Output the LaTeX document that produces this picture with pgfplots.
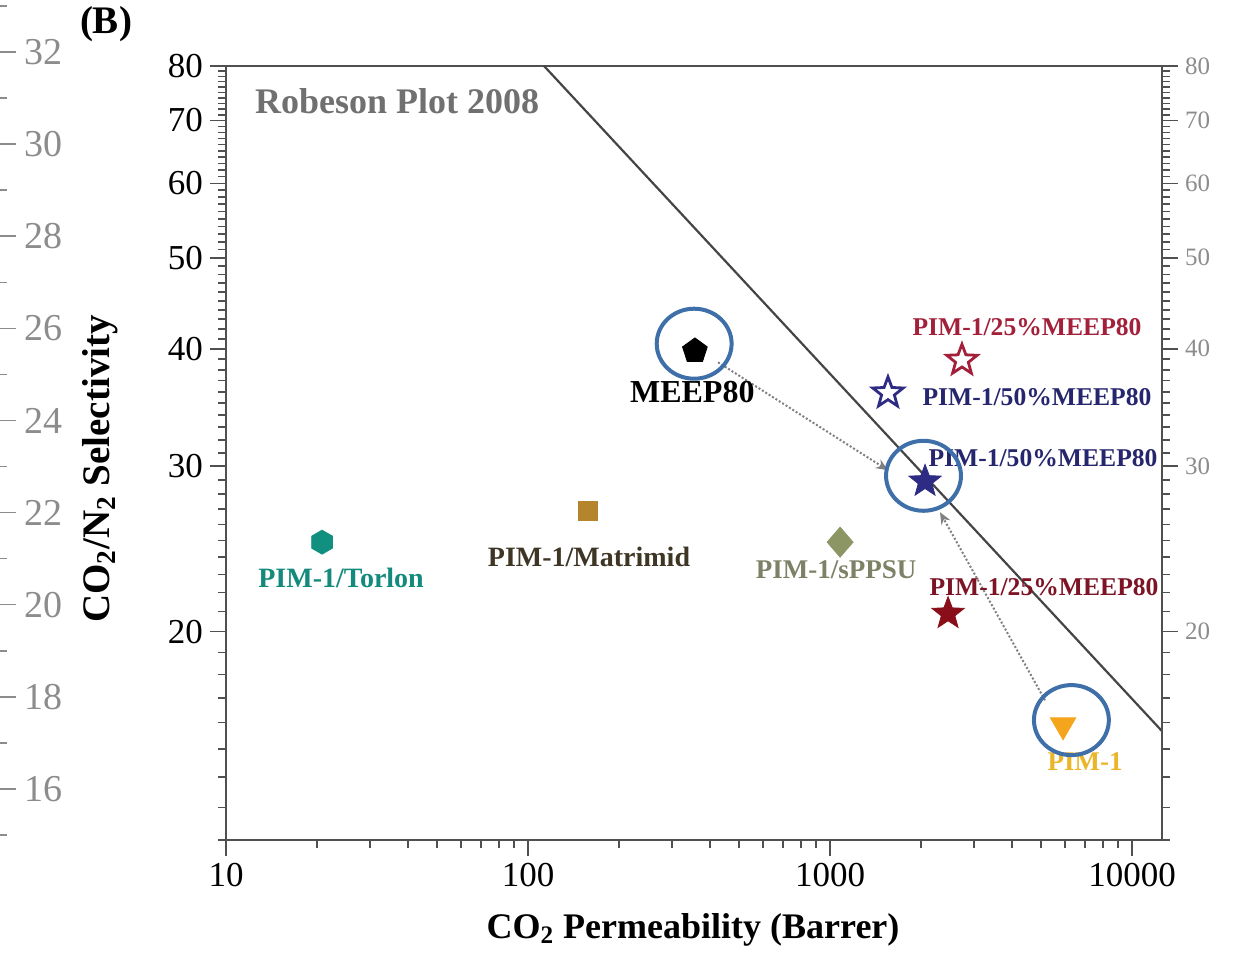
\documentclass[border=0pt]{standalone}
\usepackage{fontspec}
\setmainfont{Liberation Serif}
\usepackage{pgfplots}
\pgfplotsset{compat=1.18}
\usetikzlibrary{arrows.meta}

\definecolor{axisgray}{HTML}{505050}
\definecolor{robtext}{HTML}{707070}
\definecolor{robline}{HTML}{454545}
\definecolor{lightlab}{HTML}{8C8C8C}
\definecolor{redA}{HTML}{A3203A}
\definecolor{redB}{HTML}{8A0E1A}
\definecolor{redBtxt}{HTML}{7C1425}
\definecolor{navyA}{HTML}{2D2B84}
\definecolor{navytxt}{HTML}{26266E}
\definecolor{pimorange}{HTML}{F4A51C}
\definecolor{pimtxt}{HTML}{EBB52A}
\definecolor{teal1}{HTML}{12907F}
\definecolor{tealtxt}{HTML}{138A7B}
\definecolor{matri}{HTML}{B5852E}
\definecolor{matritxt}{HTML}{3E3524}
\definecolor{sppsu}{HTML}{8C9664}
\definecolor{sppsutxt}{HTML}{7D8166}
\definecolor{ringblue}{HTML}{3E6FA8}

% five-pointed star and hexagon plot marks
\pgfdeclareplotmark{fivestar}{%
  \pgfpathmoveto{\pgfpointpolar{90}{\pgfplotmarksize}}%
  \pgfpathlineto{\pgfpointpolar{126}{0.42\pgfplotmarksize}}%
  \pgfpathlineto{\pgfpointpolar{162}{\pgfplotmarksize}}%
  \pgfpathlineto{\pgfpointpolar{198}{0.42\pgfplotmarksize}}%
  \pgfpathlineto{\pgfpointpolar{234}{\pgfplotmarksize}}%
  \pgfpathlineto{\pgfpointpolar{270}{0.42\pgfplotmarksize}}%
  \pgfpathlineto{\pgfpointpolar{306}{\pgfplotmarksize}}%
  \pgfpathlineto{\pgfpointpolar{342}{0.42\pgfplotmarksize}}%
  \pgfpathlineto{\pgfpointpolar{18}{\pgfplotmarksize}}%
  \pgfpathlineto{\pgfpointpolar{54}{0.42\pgfplotmarksize}}%
  \pgfpathclose
  \pgfusepathqfillstroke
}
\pgfdeclareplotmark{hexa}{%
  \pgfpathmoveto{\pgfpointpolar{90}{\pgfplotmarksize}}%
  \pgfpathlineto{\pgfpointpolar{150}{\pgfplotmarksize}}%
  \pgfpathlineto{\pgfpointpolar{210}{\pgfplotmarksize}}%
  \pgfpathlineto{\pgfpointpolar{270}{\pgfplotmarksize}}%
  \pgfpathlineto{\pgfpointpolar{330}{\pgfplotmarksize}}%
  \pgfpathlineto{\pgfpointpolar{30}{\pgfplotmarksize}}%
  \pgfpathclose
  \pgfusepathqfillstroke
}

\newcommand{\lab}[1]{\fontsize{#1}{#1}\selectfont\bfseries}

\begin{document}
\begin{tikzpicture}

% right-hand scale of the neighbouring panel
\begin{axis}[
  at={(-1pt,38pt)}, anchor=south east,
  scale only axis, width=20pt, height=437.5pt,
  xmin=0, xmax=1, ymin=14, ymax=33,
  axis x line=none, axis y line*=right,
  ytick={16,18,...,32}, minor ytick={15,17,...,33},
  tick align=outside, major tick length=9pt, minor tick length=4.5pt,
  axis line style={draw=lightlab},
  every tick/.style={lightlab, line width=0.8pt},
  yticklabel style={lightlab, font=\fontsize{19}{20}\selectfont, xshift=0.5pt},
  /pgf/number format/assume math mode=true,
]
\end{axis}

\begin{axis}[
  at={(113pt,58.5pt)}, anchor=south west,
  scale only axis, width=468pt, height=387pt,
  xmode=log, ymode=log,
  xmin=10, xmax=12570, ymin=12, ymax=80,
  xtick={10,100,1000,10000}, xticklabels={10,100,1000,10000},
  minor xtick={20,30,40,50,60,70,80,90,200,300,400,500,600,700,800,900,2000,3000,4000,5000,6000,7000,8000,9000},
  ytick={20,30,40,50,60,70,80}, yticklabels={20,30,40,50,60,70,80},
  minor ytick={12,13,...,80},
  xtick pos=left, ytick pos=left,
  tick align=outside, major tick length=8pt, minor tick length=4pt,
  axis line style={draw=axisgray, line width=0.9pt},
  every tick/.style={axisgray, line width=0.8pt},
  ticklabel style={font=\fontsize{17.5}{20}\selectfont},
  /pgf/number format/assume math mode=true,
  clip=false,
]
% 2008 upper bound
\addplot[robline, line width=1.1pt] coordinates {(113,80) (12570,15.67)};

% dotted arrows towards the 50% blend
\addplot[gray, densely dotted, line width=1pt, -{Stealth[length=6pt,width=5pt]}]
  coordinates {(426,38.7) (1556,29.7)};
\addplot[gray, densely dotted, line width=1pt, -{Stealth[length=6pt,width=5pt]}]
  coordinates {(5152,16.9) (2313,26.8)};

% membranes
\addplot[only marks, mark=pentagon*, mark size=6.5pt, black] coordinates {(357,39.8)};
\addplot[only marks, mark=fivestar, mark size=8pt, draw=redA, fill=white, line width=1.4pt] coordinates {(2735,38.9)};
\addplot[only marks, mark=fivestar, mark size=8pt, draw=navyA, fill=white, line width=1.4pt] coordinates {(1556,35.9)};
\addplot[only marks, mark=fivestar, mark size=8.5pt, draw=navyA, fill=navyA] coordinates {(2064,28.9)};
\addplot[only marks, mark=fivestar, mark size=8.5pt, draw=redB, fill=redB] coordinates {(2460,20.9)};
\addplot[only marks, mark=triangle*, mark size=7.3pt, draw=pimorange, fill=pimorange, mark options={rotate=180}] coordinates {(5912,15.9)};
\addplot[only marks, mark=hexa, mark size=6pt, draw=teal1, fill=teal1] coordinates {(20.8,24.9)};
\addplot[only marks, mark=square*, mark size=4.8pt, draw=matri, fill=matri] coordinates {(158,26.9)};
\addplot[only marks, mark=diamond*, mark size=7.5pt, draw=sppsu, fill=sppsu, mark options={xscale=1.15}] coordinates {(1080,24.9)};

% highlighted samples
\addplot[only marks, mark=o, mark size=17.5pt, draw=ringblue, line width=2pt, mark options={xscale=1.07}]
  coordinates {(355,40.5) (2040,29.3) (6300,16.1)};

% labels
\node[anchor=west, text=robtext] at (axis cs:11.83,73.4) {\lab{18}Robeson Plot 2008};
\node[black] at (axis cs:350,36.0) {\lab{16}MEEP80};
\node[text=redA] at (axis cs:4491,42.2) {\lab{12.8}PIM-1/25\%MEEP80};
\node[text=navytxt] at (axis cs:4846,35.5) {\lab{12.8}PIM-1/50\%MEEP80};
\node[text=navytxt] at (axis cs:5073,30.6) {\lab{12.8}PIM-1/50\%MEEP80};
\node[text=redBtxt] at (axis cs:5112,22.3) {\lab{12.8}PIM-1/25\%MEEP80};
\node[text=pimtxt] at (axis cs:6988,14.56) {\lab{13.5}PIM-1};
\node[text=tealtxt] at (axis cs:24.04,22.8) {\lab{14}PIM-1/Torlon};
\node[text=matritxt] at (axis cs:159.2,24.0) {\lab{14}PIM-1/Matrimid};
\node[text=sppsutxt] at (axis cs:1047,23.3) {\lab{13.5}PIM-1/sPPSU};
\end{axis}

% right-hand scale
\begin{axis}[
  at={(113pt,58.5pt)}, anchor=south west,
  scale only axis, width=468pt, height=387pt,
  xmode=log, ymode=log,
  xmin=10, xmax=12570, ymin=12, ymax=80,
  axis x line=none, axis y line*=right,
  ytick={20,30,40,50,60,70,80}, yticklabels={20,30,40,50,60,70,80},
  minor ytick={12,13,...,80},
  tick align=outside, major tick length=8pt, minor tick length=4pt,
  axis line style={draw=axisgray, line width=0.9pt},
  every tick/.style={axisgray, line width=0.8pt},
  yticklabel style={lightlab, font=\fontsize{12.5}{14}\selectfont},
  /pgf/number format/assume math mode=true,
]
\end{axis}

% panel tag and axis titles
\node at (53pt,466.5pt) {\lab{19.5}(B)};
\node at (346.5pt,13.5pt) {\lab{18}CO\textsubscript{2} Permeability (Barrer)};
\node[rotate=90] at (50pt,244pt) {\lab{19.5}CO\textsubscript{2}/N\textsubscript{2} Selectivity};

\pgfresetboundingbox
\useasboundingbox (0,0) rectangle (617.5pt,478.5pt);
\end{tikzpicture}
\end{document}
